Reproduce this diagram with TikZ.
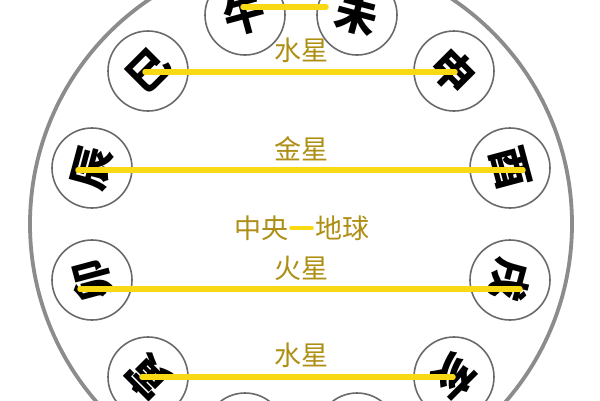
\documentclass[tikz,border=0pt]{standalone}
\usepackage{fontspec}
\newfontfamily\cjk{Noto Sans CJK SC}
\definecolor{ringgray}{HTML}{8C8C8C}
\definecolor{cgray}{HTML}{6A6A6A}
\definecolor{ybar}{HTML}{F9D814}
\definecolor{gold}{HTML}{AE8F14}
\tikzset{
  ring/.style={circle, draw=ringgray, line width=3.8pt, minimum size=542pt, inner sep=0pt},
  branch/.style={circle, draw=cgray, line width=1.6pt, minimum size=80pt, inner sep=0pt},
  glyph/.style={font=\cjk\bfseries\fontsize{42}{42}\selectfont, text=black, inner sep=0pt},
  bar/.style={draw=ybar, line width=5.5pt, line cap=round},
  planet/.style={font=\cjk\fontsize{27}{27}\selectfont, text=gold, inner sep=0pt},
}
\begin{document}
\begin{tikzpicture}[x=1pt,y=-1pt]
\useasboundingbox (0,0) rectangle (600,400);
\fill[white] (0,0) rectangle (600,400);
\clip (0,0) rectangle (600,400);
\node[ring] (bigring) at (301,224) {};
% branch circles
\node[branch] (wu)   at (245,15)  {};
\node[branch] (wei)  at (357,15)  {};
\node[branch] (shen) at (454,71)  {};
\node[branch] (you)  at (510,168) {};
\node[branch] (xu)   at (510,280) {};
\node[branch] (hai)  at (454,377) {};
\node[branch] (zi)   at (357,433) {};
\node[branch] (chou) at (245,433) {};
\node[branch] (yin)  at (148,377) {};
\node[branch] (mao)  at (92,280)  {};
\node[branch] (chen) at (92,168)  {};
\node[branch] (si)   at (148,71)  {};
% glyphs
\node[glyph, rotate=15]   (gwu)   at (wu)   {午};
\node[glyph, rotate=-15]  (gwei)  at (wei)  {未};
\node[glyph, rotate=-45]  (gshen) at (shen) {申};
\node[glyph, rotate=-75]  (gyou)  at (you)  {酉};
\node[glyph, rotate=-105] (gxu)   at (xu)   {戌};
\node[glyph, rotate=-135] (ghai)  at (hai)  {亥};
\node[glyph, rotate=-165] (gzi)   at (zi)   {子};
\node[glyph, rotate=165]  (gchou) at (chou) {丑};
\node[glyph, rotate=135]  (gyin)  at (yin)  {寅};
\node[glyph, rotate=105]  (gmao)  at (mao)  {卯};
\node[glyph, rotate=75]   (gchen) at (chen) {辰};
\node[glyph, rotate=45]   (gsi)   at (si)   {巳};
% bar end points
\coordinate (b1a) at (243,7);   \coordinate (b1b) at (326,7);
\coordinate (b2a) at (145,72);  \coordinate (b2b) at (455,72);
\coordinate (b3a) at (78,170);  \coordinate (b3b) at (523,170);
\coordinate (b4a) at (80,289);  \coordinate (b4b) at (520,289);
\coordinate (b5a) at (142,377); \coordinate (b5b) at (453,377);
\draw[bar] (b1a) -- (b1b);
\draw[bar] (b2a) -- (b2b);
\draw[bar] (b3a) -- (b3b);
\draw[bar] (b4a) -- (b4b);
\draw[bar] (b5a) -- (b5b);
% labels
\node[planet] (mercury1) at (301,50)  {水星};
\node[planet] (venus)    at (301,149) {金星};
\node[planet] (centerL)  at (261,228) {中央};
\node[planet] (centerR)  at (342,228) {地球};
\coordinate (d1) at ([xshift=3pt]centerL.east);
\coordinate (d2) at ([xshift=-3pt]centerR.west);
\draw[bar, line width=4pt] (d1) -- (d2);
\node[planet] (mars)     at (301,268) {火星};
\node[planet] (mercury2) at (301,355) {水星};
\end{tikzpicture}
\end{document}
